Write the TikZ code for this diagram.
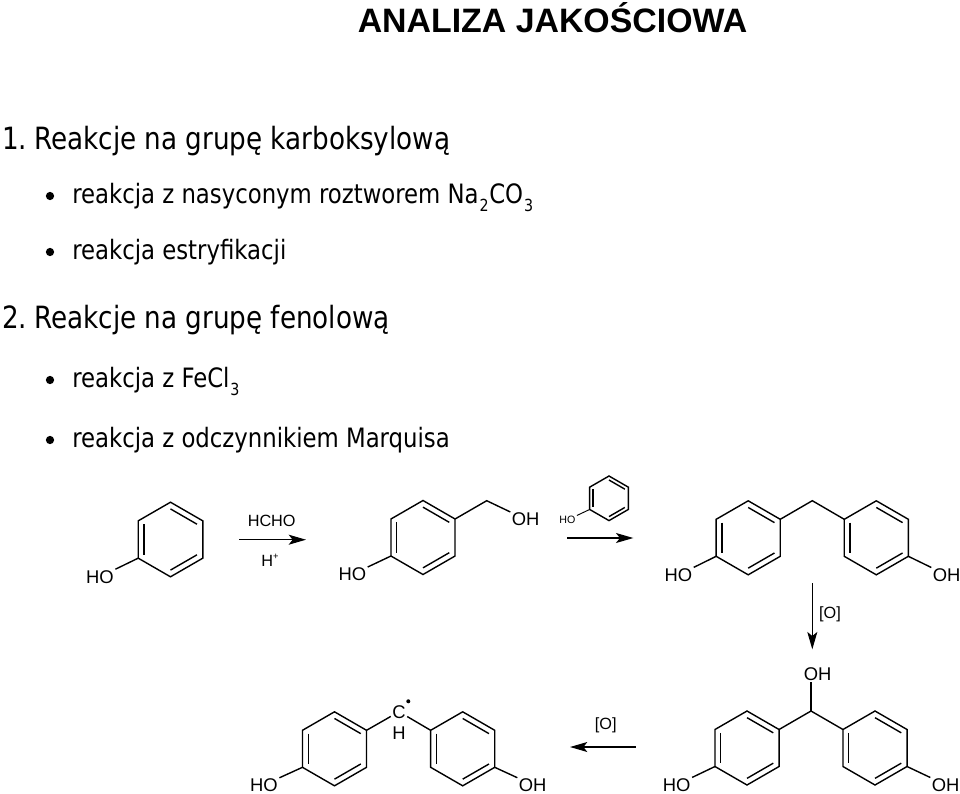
\documentclass[tikz,border=0pt]{standalone}
\usepackage{fontspec}
\setmainfont{DejaVu Sans Condensed}[FakeStretch=0.95]
\newfontfamily\arialf{Liberation Sans}
\usetikzlibrary{calc,arrows.meta}
\newcommand{\sbs}[1]{\raisebox{-0.3em}{\fontsize{12.5}{15}\selectfont\kern0.7pt #1}}
% ring: prefix, cx, cy, R (regular hexagon with a vertex on top)
\newcommand{\benz}[4]{%
  \coordinate (#1c) at (#2,#3);
  \coordinate (#1t) at (#2,#3-#4);
  \coordinate (#1b) at (#2,#3+#4);
  \coordinate (#1ur) at (#2+0.866*#4,#3-0.5*#4);
  \coordinate (#1lr) at (#2+0.866*#4,#3+0.5*#4);
  \coordinate (#1ul) at (#2-0.866*#4,#3-0.5*#4);
  \coordinate (#1ll) at (#2-0.866*#4,#3+0.5*#4);
  \draw[bond] (#1t)--(#1ur)--(#1lr)--(#1b)--(#1ll)--(#1ul)--cycle;
  \draw[bond] ($(#1c)!0.82!(#1ul)$)--($(#1c)!0.82!(#1ll)$);
  \draw[bond] ($(#1c)!0.82!(#1t)$)--($(#1c)!0.82!(#1ur)$);
  \draw[bond] ($(#1c)!0.82!(#1lr)$)--($(#1c)!0.82!(#1b)$);
}
\tikzset{
  bond/.style={line width=1.05pt,black,line join=miter},
  arrowline/.style={line width=0.9pt,black,-{Stealth[length=13pt,width=7.5pt,inset=3pt]}},
  chem/.style={font=\arialf\fontsize{13.8}{15}\selectfont,inner sep=1pt,text=black},
  reagent/.style={font=\arialf\fontsize{12.2}{14}\selectfont,inner sep=1pt,text=black},
  chemsmall/.style={font=\arialf\fontsize{8}{9}\selectfont,inner sep=1pt,text=black},
  head/.style={anchor=base west,inner sep=0pt,font=\fontsize{23}{26}\selectfont},
  item/.style={anchor=base west,inner sep=0pt,font=\fontsize{20}{24}\selectfont},
  bullet/.style={circle,fill=black,inner sep=0pt,minimum size=6.2pt},
  titlefont/.style={anchor=base,inner sep=0pt,font=\arialf\bfseries\fontsize{25.4}{28}\selectfont}
}
\begin{document}
\begin{tikzpicture}[x=0.75pt,y=-0.75pt]
\useasboundingbox[fill=white] (0,0) rectangle (960,793);
\node[titlefont] (title) at (552.5,32) {ANALIZA JAKOŚCIOWA};
\node[head] (h1) at (2,149) {1.\kern-3pt{} Reakcje na grupę karboksylową};
\node[bullet] (b1) at (50,196) {};
\node[item] (i1) at (72,203) {reakcja z nasyconym roztworem Na\sbs{2}\kern0.5pt CO\sbs{3}};
\node[bullet] (b2) at (50,252) {};
\node[item] (i2) at (72,259) {reakcja estryfikacji};
\node[head] (h2) at (2,328) {2.\kern-3pt{} Reakcje na grupę fenolową};
\node[bullet] (b3) at (50,380) {};
\node[item] (i3) at (72,387) {reakcja z FeCl\sbs{3}};
\node[bullet] (b4) at (50,440) {};
\node[item] (i4) at (72,447) {reakcja z odczynnikiem Marquisa};

% phenol
\benz{a}{170.5}{539.5}{37.3}
\node[chem] (aho) at (100,576.7) {HO};
\draw[bond] (all)--(aho);
% HCHO arrow
\node[reagent] (hcho) at (271.7,520.7) {HCHO};
\node[reagent] (hplus) at (270,560) {H\raisebox{0.45em}{\fontsize{7}{8}\selectfont +}};
\coordinate (ar1s) at (239.3,539.7);
\coordinate (ar1e) at (306,539.7);
\draw[arrowline] (ar1s)--(ar1e);
% hydroxymethylphenol
\benz{b}{423}{537.5}{37}
\node[chem] (bho) at (352.3,574.3) {HO};
\draw[bond] (bll)--(bho);
\coordinate (bch) at (486.7,500.7);
\node[chem] (boh) at (525.7,519.3) {OH};
\draw[bond] (bur)--(bch)--(boh);
% small phenol above arrow
\benz{s}{609}{498.3}{22.3}
\node[chemsmall] (sho) at (567.3,520) {HO};
\draw[line width=0.7pt,black] (sll)--(sho);
\coordinate (ar2s) at (567.3,538);
\coordinate (ar2e) at (633.3,538);
\draw[arrowline] (ar2s)--(ar2e);
% bisphenol F
\benz{c}{748.2}{537.8}{37}
\benz{d}{876.3}{537.8}{37}
\coordinate (cch) at (812.3,500.7);
\draw[bond] (cur)--(cch)--(dul);
\node[chem] (cho) at (678.3,575) {HO};
\draw[bond] (cll)--(cho);
\node[chem] (doh) at (946.7,575) {OH};
\draw[bond] (dlr)--(doh);
% down arrow
\coordinate (ar3s) at (812.3,583.3);
\coordinate (ar3e) at (812.3,649.3);
\draw[arrowline] (ar3s)--(ar3e);
\node[reagent] (o1) at (830,614.3) {[O]};
% carbinol
\benz{e}{747}{748}{37}
\benz{f}{875}{748}{37}
\coordinate (ech) at (811,711);
\draw[bond] (eur)--(ech)--(ful);
\node[chem] (eoh) at (817.7,674.3) {OH};
\draw[bond] (ech)--(ech |- eoh.south);
\node[chem] (eho) at (676.7,784.8) {HO};
\draw[bond] (ell)--(eho);
\node[chem] (foh) at (945.7,784.8) {OH};
\draw[bond] (flr)--(foh);
% left arrow
\coordinate (ar4s) at (635.7,747);
\coordinate (ar4e) at (570,747);
\draw[arrowline] (ar4s)--(ar4e);
\node[reagent] (o2) at (605.7,725) {[O]};
% radical
\benz{g}{334.5}{748.8}{37}
\benz{k}{462.7}{748.8}{37}
\node[chem] (gc) at (399,711.7) {C};
\node[chem] (gh) at (399,733.3) {H};
\node[circle,fill=black,inner sep=0pt,minimum size=3pt] (gdot) at (408.3,701.3) {};
\draw[bond] (gur)--(gc);
\draw[bond] (kul)--(gc);
\node[chem] (gho) at (264,784.8) {HO};
\draw[bond] (gll)--(gho);
\node[chem] (koh) at (532.7,784.8) {OH};
\draw[bond] (klr)--(koh);
\end{tikzpicture}
\end{document}
